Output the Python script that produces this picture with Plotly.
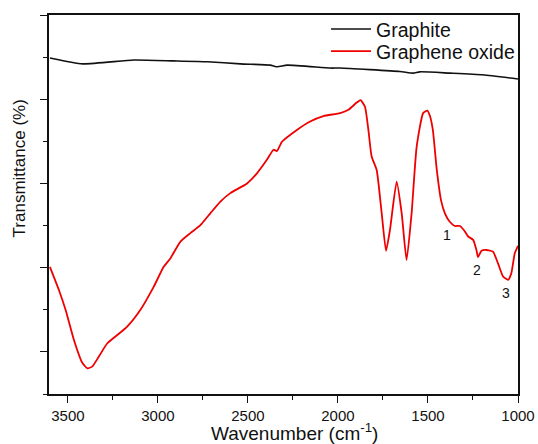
import plotly.graph_objects as go

# Graphite spectrum (wavenumber cm^-1, transmittance arbitrary units)
graphite_wn = [3600, 3418, 3135, 2913, 2725, 2542, 2376, 2337, 2282, 2043, 1988, 1656, 1583, 1545, 1379, 1196, 1000]
graphite_t = [7.98, 7.84, 7.93, 7.91, 7.89, 7.84, 7.81, 7.77, 7.81, 7.74, 7.74, 7.66, 7.62, 7.65, 7.62, 7.58, 7.48]

# Graphene oxide spectrum
go_wn = [3600, 3550, 3513, 3467, 3420, 3392, 3365, 3328, 3282, 3226, 3171, 3097, 3023, 2968, 2931,
         2875, 2820, 2764, 2709, 2653, 2598, 2505, 2450, 2395, 2358, 2339, 2311, 2228, 2155, 2081,
         1988, 1942, 1896, 1874, 1850, 1831, 1813, 1785, 1757, 1733, 1711, 1674, 1646, 1619, 1591,
         1563, 1527, 1504, 1489, 1473, 1451, 1428, 1406, 1379, 1351, 1323, 1295, 1277, 1249, 1231,
         1222, 1203, 1175, 1139, 1111, 1083, 1055, 1037, 1018, 1000]
go_t = [3.02, 2.47, 2.00, 1.29, 0.74, 0.61, 0.65, 0.89, 1.20, 1.40, 1.60, 2.00, 2.55, 3.02, 3.22,
        3.62, 3.82, 4.01, 4.29, 4.57, 4.77, 5.00, 5.24, 5.56, 5.80, 5.77, 5.99, 6.27, 6.47, 6.60,
        6.67, 6.75, 6.92, 6.98, 6.82, 6.27, 5.64, 5.32, 4.29, 3.40, 3.90, 5.04, 4.29, 3.18, 4.29,
        5.87, 6.67, 6.73, 6.60, 6.27, 5.32, 4.61, 4.29, 4.09, 3.99, 3.99, 3.86, 3.74, 3.66, 3.42,
        3.25, 3.40, 3.42, 3.38, 3.10, 2.79, 2.71, 2.87, 3.34, 3.52]

# Peak labels
label_text = ["1", "2", "3"]
label_wn = [1397, 1227, 1068]
label_t = [3.78, 2.95, 2.40]

x_tickvals = [3500, 3000, 2500, 2000, 1500, 1000]
x_minor = [3250, 2750, 2250, 1750, 1250]
y_major = [1, 3, 5, 7, 9]
y_minor = [0, 2, 4, 6, 8]

FONT = "Liberation Sans, Arial, sans-serif"
INK = "#111111"

fig = go.Figure()
fig.add_trace(go.Scatter(x=graphite_wn, y=graphite_t, mode="lines", name="Graphite",
                         legend="legend",
                         line=dict(color=INK, width=1.6, shape="spline", smoothing=0.5)))
fig.add_trace(go.Scatter(x=go_wn, y=go_t, mode="lines", name="Graphene oxide",
                         legend="legend2",
                         line=dict(color="#ee0000", width=1.8, shape="spline", smoothing=0.5)))

for t, xw, yv in zip(label_text, label_wn, label_t):
    fig.add_annotation(x=xw, y=yv, text=t, showarrow=False,
                       font=dict(family=FONT, size=14, color=INK))

# axis titles as positioned text (offsets as in the reference)
fig.add_annotation(xref="paper", yref="paper", x=-0.062, y=0.595, text="Transmittance (%)",
                   textangle=-90, showarrow=False, xanchor="center", yanchor="middle",
                   font=dict(family=FONT, size=17, color=INK))
fig.add_annotation(xref="paper", yref="paper", x=0.5226, y=-0.100, text="Wavenumber (cm<sup>-1</sup>)",
                   showarrow=False, xanchor="center", yanchor="middle",
                   font=dict(family=FONT, size=19, color=INK))

leg_common = dict(xref="container", yref="container", xanchor="left", yanchor="top",
                  bgcolor="rgba(0,0,0,0)", font=dict(family=FONT, size=19.5, color=INK),
                  itemwidth=40)

fig.update_layout(
    width=538, height=444,
    margin=dict(l=48.5, r=19.7, t=15, b=50, autoexpand=False),
    paper_bgcolor="white", plot_bgcolor="white",
    font=dict(family=FONT, color=INK),
    showlegend=True,
    legend=dict(x=0.606, y=0.978, **leg_common),
    legend2=dict(x=0.606, y=0.928, **leg_common),
    xaxis=dict(range=[3605, 1000], tickmode="array", tickvals=x_tickvals, automargin=False,
               ticks="outside", ticklen=7, tickwidth=1.4, tickcolor=INK, ticklabelstandoff=0,
               minor=dict(tickvals=x_minor, ticks="outside", ticklen=4, tickwidth=1.4, tickcolor=INK),
               showline=True, linecolor=INK, linewidth=1.6, mirror=True,
               showgrid=False, zeroline=False,
               tickfont=dict(family=FONT, size=15, color=INK)),
    yaxis=dict(range=[0, 9], tickmode="array", tickvals=y_major, showticklabels=False, automargin=False,
               ticks="outside", ticklen=7, tickwidth=1.4, tickcolor=INK,
               minor=dict(tickvals=y_minor, ticks="outside", ticklen=4, tickwidth=1.4, tickcolor=INK),
               showline=True, linecolor=INK, linewidth=1.6, mirror=True,
               showgrid=False, zeroline=False),
)

fig.write_html("out.html", post_script="document.body.style.margin='0';",
               config={"displayModeBar": False})
